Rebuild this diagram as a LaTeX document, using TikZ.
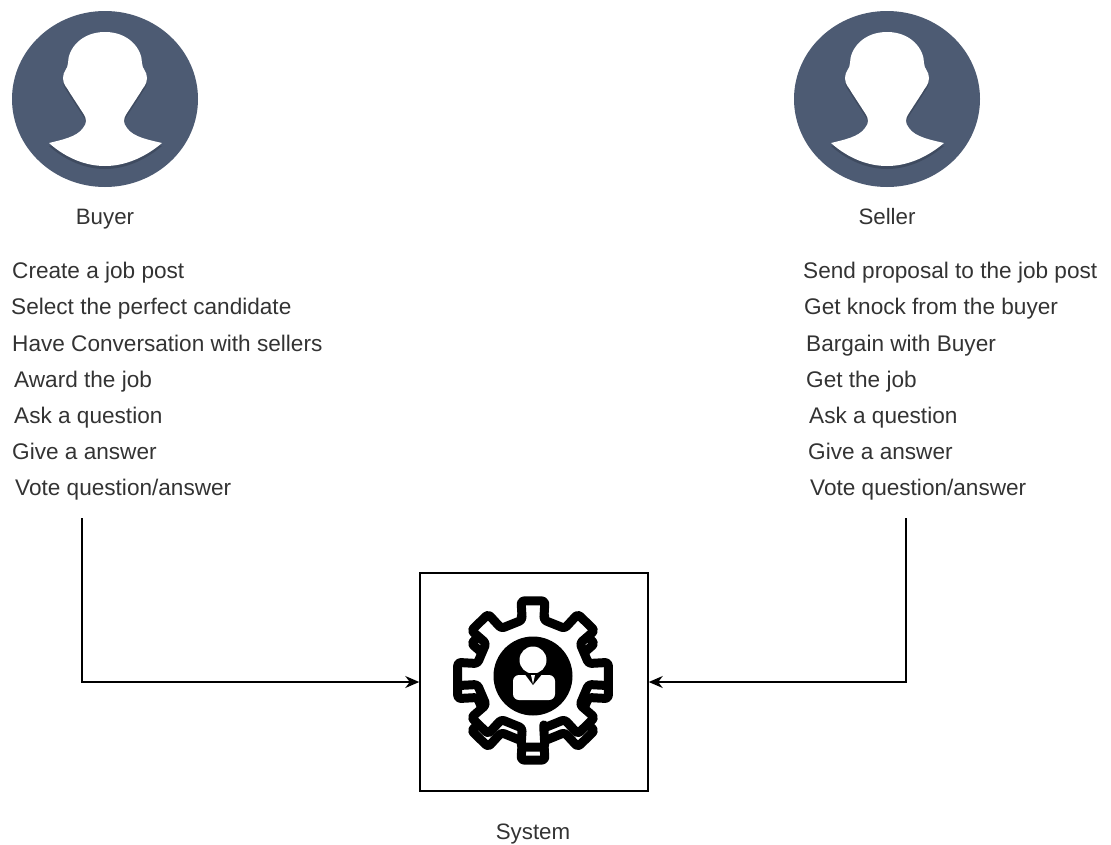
\documentclass[tikz,border=0pt]{standalone}
\usepackage{fontspec}
\setmainfont{Liberation Sans}
\usepackage{tikz}
\usetikzlibrary{arrows.meta}

\definecolor{avatarblue}{HTML}{4D5B73}
\definecolor{avatarshade}{HTML}{3F4B60}
\definecolor{labelgray}{HTML}{333333}

\tikzset{
  label text/.style={anchor=base west,inner sep=0pt,text=labelgray,font=\fontsize{22.6}{24}\selectfont},
  role text/.style={anchor=base,inner sep=0pt,text=labelgray,font=\fontsize{22.3}{24}\selectfont},
  conn/.style={line width=1.5pt,-{Stealth[length=14pt,width=12pt]}},
  gearline/.style={draw=black,fill=white,line width=9pt,line join=round,rounded corners=3pt}
}

\newcommand{\gearoutline}{
  (79:55) \foreach \a in {90,135,...,405} {
    -- (\a-11:55) -- (\a-9:74) -- (\a+9:74) -- (\a+11:55)
  } -- cycle
}
\newcommand{\headshape}{
  (0,-67) .. controls (-24,-67) and (-37,-50) .. (-37,-36)
  .. controls (-37,-30) and (-42,-28) .. (-42,-21)
  .. controls (-42,-14) and (-38,-12) .. (-35,-6)
  -- (-22,14) .. controls (-18,20) and (-18,24) .. (-22,29)
  .. controls (-28,38) and (-44,41) .. (-56,44)
  .. controls (-38,60) and (-18,67) .. (0,67)
  .. controls (18,67) and (38,60) .. (57,44)
  .. controls (44,41) and (28,38) .. (22,29)
  .. controls (18,24) and (18,20) .. (22,14)
  -- (35,-6) .. controls (38,-12) and (42,-14) .. (42,-21)
  .. controls (42,-28) and (37,-30) .. (37,-36)
  .. controls (37,-50) and (24,-67) .. (0,-67) -- cycle
}

\begin{document}
\begin{tikzpicture}[x=1pt,y=-1pt]
  \useasboundingbox (0,0) rectangle (1111,844);

  % user icons
  \foreach \cx in {105,887} {
    \fill[avatarblue] (\cx,99) ellipse (93 and 88);
    \fill[avatarshade,shift={(\cx,102)}] \headshape;
    \fill[white,shift={(\cx,99)}] \headshape;
  }

  \node[role text] (buyer) at (105,224) {Buyer};
  \node[role text] (seller) at (887,224) {Seller};

  % buyer actions
  \node[label text] (b1) at (12,278) {Create a job post};
  \node[label text] (b2) at (11,314) {Select the perfect candidate};
  \node[label text] (b3) at (12,351) {Have Conversation with sellers};
  \node[label text] (b4) at (14,387) {Award the job};
  \node[label text] (b5) at (14,423) {Ask a question};
  \node[label text] (b6) at (12,459) {Give a answer};
  \node[label text] (b7) at (15,495) {Vote question/answer};

  % seller actions
  \node[label text] (s1) at (803,278) {Send proposal to the job post};
  \node[label text] (s2) at (804,314) {Get knock from the buyer};
  \node[label text] (s3) at (806,351) {Bargain with Buyer};
  \node[label text] (s4) at (806,387) {Get the job};
  \node[label text] (s5) at (809,423) {Ask a question};
  \node[label text] (s6) at (808,459) {Give a answer};
  \node[label text] (s7) at (810,495) {Vote question/answer};

  % system box
  \node[draw,line width=1.5pt,minimum width=228pt,minimum height=218pt,inner sep=0pt] (sysbox) at (534,682) {};
  \node[role text] (system) at (533,839) {System};

  % gear
  \draw[gearline,shift={(533,687)},xscale=1.03] \gearoutline;
  \draw[gearline,shift={(533,674)},xscale=1.03] \gearoutline;
  \fill[black] (533,676) circle (39.5);
  \fill[white] (533,660) circle (13.5);
  \fill[white,rounded corners=6pt] (513,675) rectangle (555,700);
  \fill[black] (524,673) -- (543,673) -- (533,685) -- cycle;
  \fill[white] (531,675) -- (535,675) -- (533,684) -- cycle;

  % connectors
  \coordinate (buyerend) at (82,518);
  \coordinate (sellerend) at (906,518);
  \draw[conn] (buyerend) |- (sysbox.west);
  \draw[conn] (sellerend) |- (sysbox.east);
\end{tikzpicture}
\end{document}
